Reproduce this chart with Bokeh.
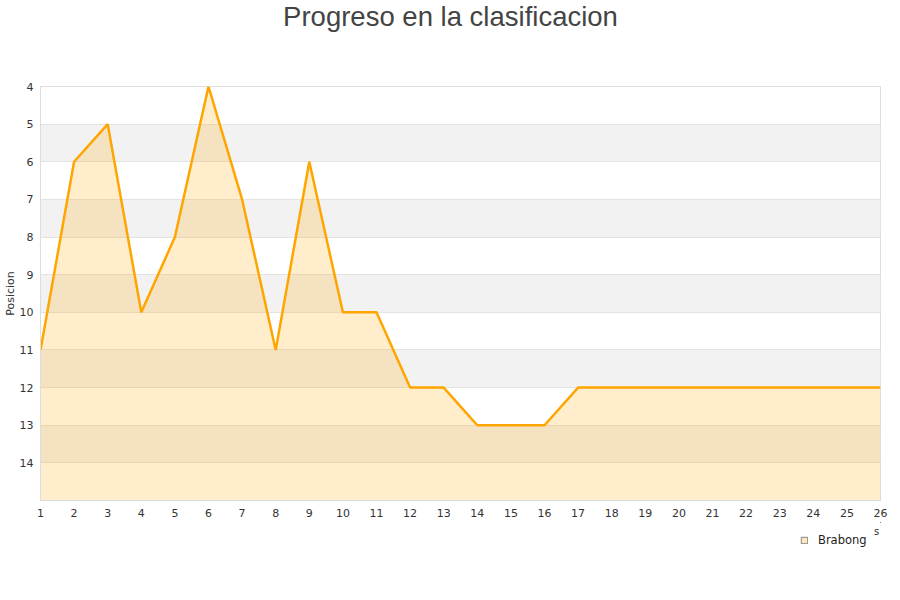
from bokeh.plotting import figure
from bokeh.layouts import column
from bokeh.models import Range1d, FixedTicker, Legend, LegendItem, ColumnDataSource, Label
from bokeh.embed import file_html
from bokeh.resources import INLINE

# Matchday numbers and league position after each one
jornadas = list(range(1, 27))
posiciones = [11, 6, 5, 10, 8, 4, 7, 11, 6, 10, 10, 12, 12, 13, 13, 13,
              12, 12, 12, 12, 12, 12, 12, 12, 12, 12]
y_ticks = [4, 5, 6, 7, 8, 9, 10, 11, 12, 13, 14]
team = "Brabong"
titulo = "Progreso en la clasificacion"
fondo = 15

ORANGE = "#FFA500"
LEFT = 40  # width of the left border; the strips share the chart's frame edges


def blank(height):
    """A bare figure used as a text strip above or below the chart."""
    f = figure(width=900, height=height, output_backend="svg", toolbar_location=None,
               x_axis_type=None, y_axis_type=None, min_border=0,
               x_range=Range1d(-10, -9), y_range=Range1d(-10, -9))
    f.outline_line_color = None
    f.grid.visible = False
    return f


# --- title strip ---
header = blank(50)
header.add_layout(Label(x=450 - LEFT, y=34, x_units="screen", y_units="screen",
                        text=titulo, text_align="center", text_baseline="middle",
                        text_font="Liberation Sans", text_font_size="27.5px",
                        text_color="#444444"))

# --- main chart ---
src = ColumnDataSource(dict(x=jornadas, y=posiciones, base=[fondo] * len(jornadas)))

p = figure(width=900, height=472, output_backend="svg", toolbar_location=None,
           x_range=Range1d(1, 26), y_range=Range1d(fondo, 4),
           min_border_left=LEFT, min_border_right=20, min_border_top=36,
           min_border_bottom=22)
p.outline_line_color = "#dddddd"
p.background_fill_color = "white"
p.border_fill_color = "white"

p.xgrid.grid_line_color = None
p.ygrid.grid_line_color = "#e3e3e3"
p.ygrid.band_fill_color = "#f2f2f2"
p.ygrid.band_fill_alpha = 1.0

p.xaxis.ticker = FixedTicker(ticks=jornadas)
p.yaxis.ticker = FixedTicker(ticks=y_ticks)
for ax in (p.xaxis[0], p.yaxis[0]):
    ax.axis_line_color = "#dddddd"
    ax.major_tick_line_color = None
    ax.minor_tick_line_color = None
    ax.major_tick_out = 0
    ax.major_tick_in = 0
    ax.minor_tick_out = 0
    ax.major_label_text_font = "DejaVu Sans"
    ax.major_label_text_font_size = "11px"
    ax.major_label_text_color = "#333333"
p.xaxis.major_label_standoff = 8
p.yaxis.major_label_standoff = 7
p.yaxis.axis_label = "Posicion"
p.yaxis.axis_label_text_font = "DejaVu Sans"
p.yaxis.axis_label_text_font_size = "11px"
p.yaxis.axis_label_text_font_style = "normal"
p.yaxis.axis_label_text_color = "#333333"
p.yaxis.axis_label_standoff = 0

p.varea(x="x", y1="y", y2="base", source=src, fill_color=ORANGE, fill_alpha=0.2)
p.line(x="x", y="y", source=src, line_color=ORANGE, line_width=2.5)

# --- legend strip ---
# The swatch renderer shares the series data but lies outside this strip's ranges,
# so only its legend entry is drawn.
foot = blank(78)
swatch = foot.vbar(x="x", top="y", bottom="base", width=0.5, source=src,
                   fill_color=ORANGE, fill_alpha=0.25, line_color="#888888",
                   line_width=1)
foot.add_layout(Legend(items=[LegendItem(label=team, renderers=[swatch])],
                       location=(800 - LEFT, 53), orientation="horizontal",
                       glyph_width=8, glyph_height=8, label_standoff=10,
                       label_text_font="DejaVu Sans", label_text_font_size="11.5px",
                       label_text_color="#222222", border_line_color=None,
                       background_fill_alpha=0, padding=2, spacing=4, margin=0))
foot.add_layout(Label(x=876 - LEFT, y=69, x_units="screen", y_units="screen", text="s",
                      text_align="center", text_baseline="middle",
                      text_font="DejaVu Sans", text_font_size="10px",
                      text_color="#333333"))

layout = column(header, p, foot, spacing=0)
open("out.html", "w").write(file_html(layout, INLINE))
